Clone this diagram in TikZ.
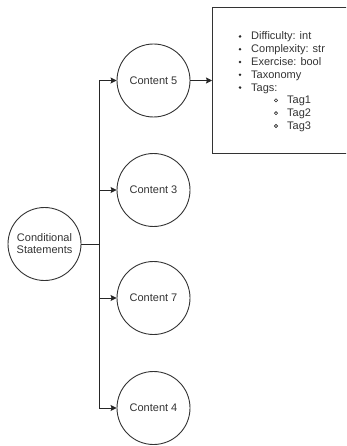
\documentclass[tikz,border=0pt]{standalone}
\usepackage{fontspec}
\setmainfont{Liberation Sans}
\usetikzlibrary{arrows.meta}
\begin{document}
\begin{tikzpicture}[x=1pt,y=-1pt,
  topic/.style={circle,draw=black!80,line width=0.9pt,minimum size=73pt,inner sep=0pt,
    font=\fontsize{11}{12}\selectfont,text=black!80,align=center},
  wire/.style={draw=black!85,line width=0.9pt},
  link/.style={wire,-{Stealth[length=6pt,width=6pt,inset=1pt]}},
  entry/.style={anchor=base west,font=\fontsize{11}{12}\selectfont,text=black!80,inner sep=0pt},
  dot/.style={fill=black!85},
  ring/.style={draw=black!85,line width=0.6pt},
]
\useasboundingbox (0,0) rectangle (346,446);
\clip (0,0) rectangle (346,446);

% topic circles
\node[topic] (cs) at (44.5,244) {Conditional\\Statements};
\node[topic] (c5) at (153.5,80.5) {Content 5};
\node[topic] (c3) at (153.5,190) {Content 3};
\node[topic] (c7) at (153.5,298) {Content 7};
\node[topic] (c4) at (153.5,408) {Content 4};

% attribute box
\node[draw=black!80,line width=0.9pt,minimum width=140pt,minimum height=146pt,anchor=north west,inner sep=0pt] (attr) at (212,7) {};

% connectors
\coordinate (fork) at (99,244);
\draw[wire] (cs.east) -- (fork);
\draw[link] (fork) |- (c5.west);
\draw[link] (fork) |- (c3.west);
\draw[link] (fork) |- (c7.west);
\draw[link] (fork) |- (c4.west);
\draw[link] (c5.east) -- (attr.west |- c5.east);

% list inside the box
\foreach \t [count=\i] in {Difficulty: int, Complexity: str, Exercise: bool, Taxonomy, Tags:} {
  \pgfmathsetmacro{\yb}{40+12.8*(\i-1)}
  \fill[dot] (240,\yb-3.6) circle (1.4pt);
  \node[entry] (item\i) at (251,\yb) {\t};
}
\foreach \t [count=\i] in {Tag1, Tag2, Tag3} {
  \pgfmathsetmacro{\yb}{104+12.8*(\i-1)}
  \draw[ring] (276,\yb-3.6) circle (1.6pt);
  \node[entry] (tag\i) at (287,\yb) {\t};
}
\end{tikzpicture}
\end{document}
